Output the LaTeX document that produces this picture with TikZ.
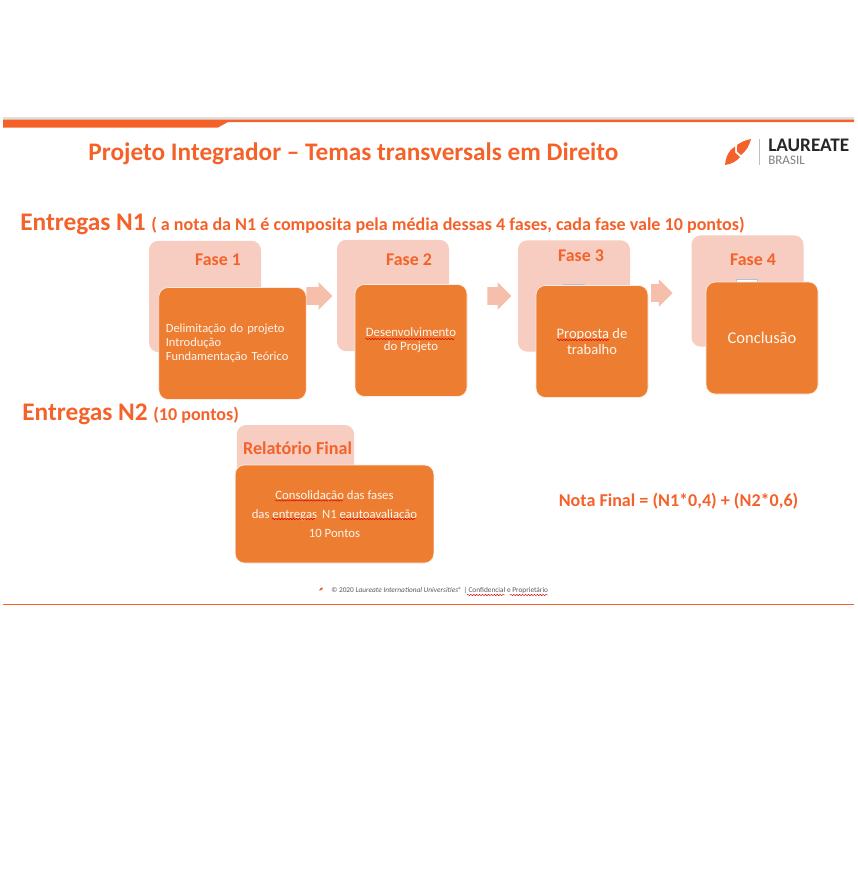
\documentclass[tikz,border=0pt]{standalone}
\usepackage{fontspec}
\setmainfont{Carlito}
\usetikzlibrary{shapes.arrows,decorations.pathmorphing}
\definecolor{brandorange}{HTML}{F4622A}
\definecolor{lightfase}{HTML}{F6CDC0}
\definecolor{darkfase}{HTML}{ED7D31}
\definecolor{arrowfase}{HTML}{F5BFAB}
\definecolor{hiddenline}{HTML}{B4BFD0}
\newcommand{\boxWidth}[0]{84pt}

\begin{document}
\begin{tikzpicture}[x=0.75pt, y=-0.75pt]
  \tikzset{
    lightbox/.style={fill=lightfase,rounded corners=7pt,minimum width=\boxWidth,minimum height=83.5pt,inner sep=0pt},
    darkbox/.style={fill=darkfase,draw=white!85!darkfase,line width=0.5pt,rounded corners=7pt,minimum width=\boxWidth,minimum height=84pt,inner sep=2pt,text=white!92!darkfase,align=center,font=\fontsize{9.6}{10.6}\selectfont},
    fasehead/.style={text=brandorange,font=\fontsize{13.4}{14}\selectfont\bfseries,inner sep=0pt},
    sectionhead/.style={text=brandorange,font=\fontsize{19}{20}\selectfont\bfseries,inner sep=0pt,anchor=west},
    notetext/.style={text=brandorange,font=\fontsize{13.55}{14}\selectfont\bfseries,inner sep=0pt},
    faseflow/.style={single arrow,fill=arrowfase,inner sep=0pt,text height=12.75pt,text depth=0pt,minimum height=19.5pt,single arrow head extend=3.75pt,single arrow tip angle=90},
    spellline/.style={draw=red!85!black,line width=0.35pt,decorate,decoration={snake,segment length=2.2pt,amplitude=0.5pt}},
    hiddenbox/.style={draw=hiddenline,fill=white,line width=0.4pt,minimum width=15.75pt,minimum height=6pt,inner sep=0pt}
  }
  \useasboundingbox (0,0) rectangle (857,871);
  % header band
  \fill[black!12] (3,116.5) rectangle (854,119.5);
  \fill[brandorange] (3,119.5) -- (854,119.5) -- (854,122) -- (228,122) -- (218,127.5) -- (3,127.5) -- cycle;
  \node[text=brandorange,font=\fontsize{18.95}{20}\selectfont\bfseries,inner sep=0pt] (title) at (353.5,154) {Projeto Integrador -- Temas transversals em Direito};
  % logo
  \fill[brandorange] (751,139) .. controls (749,146) and (747,150) .. (741,155) -- (737,151.5) -- (737,145) .. controls (741,142) and (746,140) .. (751,139) -- cycle;
  \fill[brandorange] (725,165) .. controls (726,156) and (729,150) .. (735,146.5) -- (735,152.5) -- (740,157) .. controls (736,162) and (731,164) .. (725,165) -- cycle;
  \draw[black!25,line width=0.5pt] (759,139) -- (759,165);
  \node[anchor=west,inner sep=0pt,font=\fontsize{14.4}{15}\selectfont\bfseries,text=black!85] (logoname) at (768,145.5) {LAUREATE};
  \node[anchor=west,inner sep=0pt,font=\fontsize{9.8}{10}\selectfont,text=black!50] (logocountry) at (768,160.5) {BRASIL};

  % N1
  \node[sectionhead] (n1head) at (20,224) {Entregas N1};
  \node[notetext,anchor=west] (n1note) at (151,225.5) {( a nota da N1 é composita pela média dessas 4 fases, cada fase vale 10 pontos)};

  \node[lightbox] (light1) at (205,296.5) {};
  \node[lightbox] (light2) at (393,295.5) {};
  \node[lightbox] (light3) at (574,296) {};
  \node[lightbox] (light4) at (747.5,291) {};
  \node[fasehead] (fase1) at (218,260) {Fase 1};
  \node[fasehead] (fase2) at (409,260) {Fase 2};
  \node[fasehead] (fase3) at (581,255.5) {Fase 3};
  \node[fasehead] (fase4) at (753,260) {Fase 4};
  \node[hiddenbox] (hidden3) at (573.5,288) {};
  \node[hiddenbox] (hidden4) at (746.5,283) {};

  \node[darkbox,minimum width=110.5pt,text width=100pt,align=left,font=\fontsize{9.35}{10.6}\selectfont] (step1) at (232.5,343.5) {Delimitação do projeto\\Introdução\\Fundamentação Teórico};
  \node[darkbox] (step2) at (411,340.5) {Desenvolvimento\\do Projeto};
  \node[darkbox,font=\fontsize{10.9}{12}\selectfont] (step3) at (592,341.5) {Proposta de\\trabalho};
  \node[darkbox,font=\fontsize{12.4}{13}\selectfont] (step4) at (762,338) {Conclusão};

  \node[faseflow] at (315,296) (flow1) {};
  \node[faseflow,minimum height=18pt] at (495,296) (flow2) {};
  \node[faseflow,minimum height=16pt] at (657.5,293) (flow3) {};

  % N2
  \node[sectionhead] (n2head) at (22,414.5) {Entregas N2};
  \node[notetext,anchor=west] (n2note) at (153,415) {(10 pontos)};
  \node[lightbox,minimum width=88pt,minimum height=45pt] (lightfinal) at (295.5,455) {};
  \node[fasehead,font=\fontsize{13.6}{14}\selectfont\bfseries] (finalhead) at (297.5,448) {Relatório Final};
  \node[darkbox,minimum width=149pt,minimum height=73.5pt,font=\fontsize{9.55}{14.2}\selectfont] (stepfinal) at (334.5,514) {Consolidação das fases\\das entregas\, N1 eautoavaliação\\10 Pontos};
  \node[notetext] (formula) at (678.5,501) {Nota Final = (N1*0,4) + (N2*0,6)};

  % footer
  \fill[brandorange] (319,590.5) -- (320.5,588) -- (323,587.5) -- (322,590) -- cycle;
  \node[anchor=west,inner sep=0pt,text=black!65,font=\fontsize{5.5}{6}\selectfont] (footer) at (331,590.5) {© 2020 \textit{Laureate International Universities}® | Confidencial e Proprietário};
  \draw[brandorange,line width=0.6pt] (3,604) -- (854,604);

  % spell check marks
  \draw[spellline] (365.5,339) -- (455,339);
  \draw[spellline] (557,340) -- (609,340);
  \draw[spellline] (275,500.5) -- (343,500.5);
  \draw[spellline] (272,519) -- (315,519);
  \draw[spellline] (340,519) -- (416,519);
  \draw[spellline] (467,595) -- (505,595);
  \draw[spellline] (510,595) -- (548,595);
\end{tikzpicture}
\end{document}
